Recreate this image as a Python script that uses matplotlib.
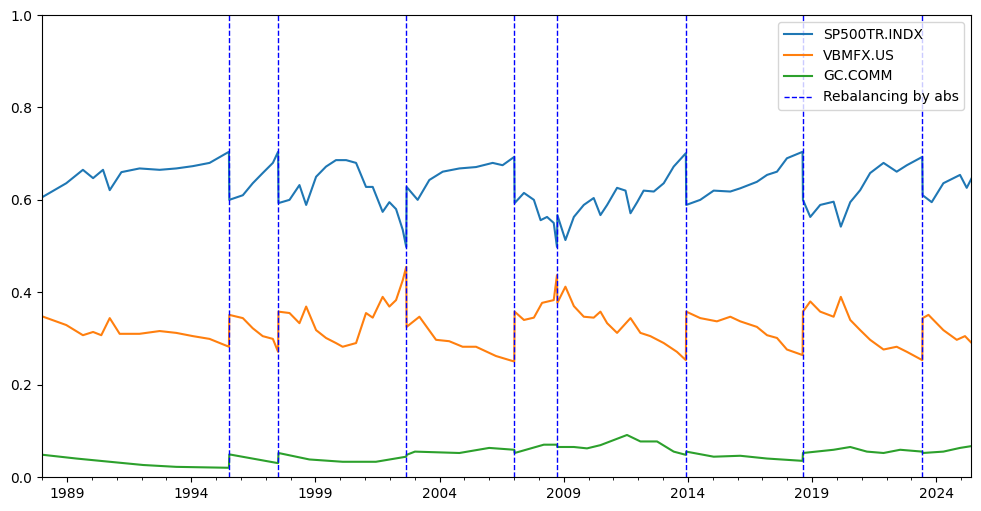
import matplotlib
matplotlib.use("Agg")
import matplotlib.pyplot as plt

rebal = [1995.52, 1997.50, 2002.66, 2007.01, 2008.73, 2013.92, 2018.62, 2023.44]
E = 0.015  # tiny offset after rebalance date

sp_t = [1988.04, 1988.97, 1989.64, 1990.05, 1990.45, 1990.72, 1991.19, 1991.92, 1992.73, 1993.40, 1994.07, 1994.74, 1995.52,
        1995.52+E, 1996.08, 1996.48, 1996.88, 1997.29, 1997.50,
        1997.50+E, 1997.96, 1998.36, 1998.63, 1999.03, 1999.43, 1999.83, 2000.24, 2000.64, 2001.04, 2001.31, 2001.71, 2001.98, 2002.25, 2002.52, 2002.66,
        2002.66+E, 2003.12, 2003.59, 2004.13, 2004.80, 2005.47, 2006.14, 2006.54, 2007.01,
        2007.01+E, 2007.40, 2007.80, 2008.07, 2008.33, 2008.60, 2008.73,
        2008.73+E, 2009.07, 2009.41, 2009.81, 2010.21, 2010.48, 2010.75, 2011.15, 2011.49, 2011.69, 2011.96, 2012.22, 2012.63, 2013.03, 2013.43, 2013.92,
        2013.92+E, 2014.50, 2015.04, 2015.71, 2016.11, 2016.78, 2017.19, 2017.59, 2017.99, 2018.62,
        2018.62+E, 2018.93, 2019.33, 2019.87, 2020.16, 2020.54, 2020.94, 2021.34, 2021.88, 2022.41, 2022.82, 2023.44,
        2023.44+E, 2023.82, 2024.29, 2024.96, 2025.23, 2025.43]
sp_v = [0.607, 0.636, 0.665, 0.647, 0.665, 0.621, 0.660, 0.668, 0.665, 0.668, 0.673, 0.680, 0.704,
        0.600, 0.610, 0.636, 0.658, 0.680, 0.704,
        0.593, 0.600, 0.632, 0.589, 0.650, 0.672, 0.686, 0.686, 0.680, 0.628, 0.628, 0.574, 0.595, 0.580, 0.535, 0.498,
        0.628, 0.600, 0.643, 0.661, 0.668, 0.671, 0.680, 0.675, 0.693,
        0.593, 0.615, 0.600, 0.556, 0.563, 0.550, 0.498,
        0.567, 0.513, 0.563, 0.589, 0.604, 0.567, 0.589, 0.626, 0.620, 0.571, 0.595, 0.620, 0.618, 0.636, 0.672, 0.701,
        0.589, 0.600, 0.620, 0.618, 0.625, 0.639, 0.654, 0.661, 0.690, 0.704,
        0.600, 0.563, 0.589, 0.596, 0.542, 0.595, 0.621, 0.658, 0.680, 0.661, 0.675, 0.693,
        0.610, 0.595, 0.636, 0.654, 0.626, 0.647]

bd_t = [1988.04, 1988.97, 1989.64, 1990.05, 1990.38, 1990.72, 1991.12, 1991.92, 1992.73, 1993.40, 1994.07, 1994.74, 1995.52,
        1995.52+E, 1996.08, 1996.48, 1996.88, 1997.29, 1997.50,
        1997.50+E, 1997.96, 1998.36, 1998.63, 1999.03, 1999.43, 1999.83, 2000.10, 2000.64, 2001.04, 2001.31, 2001.71, 2001.98, 2002.25, 2002.52, 2002.66,
        2002.66+E, 2003.19, 2003.86, 2004.39, 2004.93, 2005.47, 2006.27, 2007.01,
        2007.01+E, 2007.40, 2007.80, 2008.13, 2008.60, 2008.73,
        2008.73+E, 2009.07, 2009.41, 2009.81, 2010.21, 2010.48, 2010.75, 2011.15, 2011.69, 2012.09, 2012.49, 2013.03, 2013.56, 2013.92,
        2013.92+E, 2014.50, 2015.17, 2015.71, 2016.11, 2016.78, 2017.19, 2017.59, 2017.99, 2018.62,
        2018.62+E, 2018.93, 2019.33, 2019.87, 2020.16, 2020.54, 2020.94, 2021.34, 2021.88, 2022.41, 2022.82, 2023.44,
        2023.44+E, 2023.69, 2024.29, 2024.83, 2025.16, 2025.43]
bd_v = [0.347, 0.329, 0.307, 0.314, 0.307, 0.344, 0.310, 0.310, 0.316, 0.312, 0.305, 0.299, 0.282,
        0.351, 0.344, 0.322, 0.305, 0.299, 0.271,
        0.358, 0.355, 0.333, 0.369, 0.318, 0.301, 0.290, 0.282, 0.290, 0.355, 0.345, 0.390, 0.369, 0.383, 0.426, 0.455,
        0.325, 0.347, 0.297, 0.294, 0.282, 0.282, 0.262, 0.250,
        0.358, 0.340, 0.345, 0.377, 0.383, 0.437,
        0.377, 0.412, 0.370, 0.347, 0.345, 0.358, 0.333, 0.312, 0.344, 0.312, 0.305, 0.290, 0.271, 0.253,
        0.358, 0.344, 0.337, 0.347, 0.337, 0.325, 0.307, 0.301, 0.276, 0.264,
        0.358, 0.380, 0.358, 0.347, 0.390, 0.340, 0.318, 0.297, 0.276, 0.282, 0.271, 0.253,
        0.344, 0.351, 0.318, 0.297, 0.305, 0.290]

gd_t = [1988.04, 1989.38, 1990.72, 1992.07, 1993.40, 1995.52,
        1995.52+E, 1997.50,
        1997.50+E, 1998.76, 2000.10, 2001.44, 2002.66,
        2002.66+E, 2003.01, 2004.80, 2006.00, 2007.01,
        2007.01+E, 2008.20, 2008.73,
        2008.73+E, 2009.41, 2009.94, 2010.48, 2011.55, 2012.09, 2012.76, 2013.43, 2013.92,
        2013.92+E, 2015.04, 2016.11, 2017.19, 2018.62,
        2018.62+E, 2019.87, 2020.54, 2021.21, 2021.88, 2022.55, 2023.44,
        2023.44+E, 2024.29, 2024.96, 2025.43]
gd_v = [0.048, 0.040, 0.033, 0.026, 0.022, 0.020,
        0.049, 0.030,
        0.052, 0.038, 0.033, 0.033, 0.044,
        0.048, 0.055, 0.052, 0.063, 0.059,
        0.052, 0.070, 0.070,
        0.065, 0.065, 0.062, 0.069, 0.091, 0.077, 0.077, 0.055, 0.048,
        0.055, 0.044, 0.046, 0.040, 0.035,
        0.052, 0.059, 0.065, 0.055, 0.052, 0.059, 0.055,
        0.052, 0.055, 0.063, 0.067]

tick_years = [1989, 1994, 1999, 2004, 2009, 2014, 2019, 2024]

fig = plt.figure(figsize=(9.81, 5.11), dpi=100)
ax = fig.add_axes([0.043, 0.0665, 0.947, 0.904])
ax.plot(sp_t, sp_v, color="#1f77b4", lw=1.5, label="SP500TR.INDX")
ax.plot(bd_t, bd_v, color="#ff7f0e", lw=1.5, label="VBMFX.US")
ax.plot(gd_t, gd_v, color="#2ca02c", lw=1.5, label="GC.COMM")
for i, r in enumerate(rebal):
    ax.axvline(r, color="blue", ls="--", lw=1, label="Rebalancing by abs" if i == 0 else None)
ax.set_xlim(1988.03, 2025.41)
ax.set_ylim(0, 1)
ax.set_xticks(tick_years)
ax.set_xticklabels([str(y) for y in tick_years])
ax.set_xticks([y + d for y in range(1988, 2026) for d in [0] if y not in tick_years], minor=True)
ax.legend(loc="upper right")
fig.savefig("out.png", dpi=100)
